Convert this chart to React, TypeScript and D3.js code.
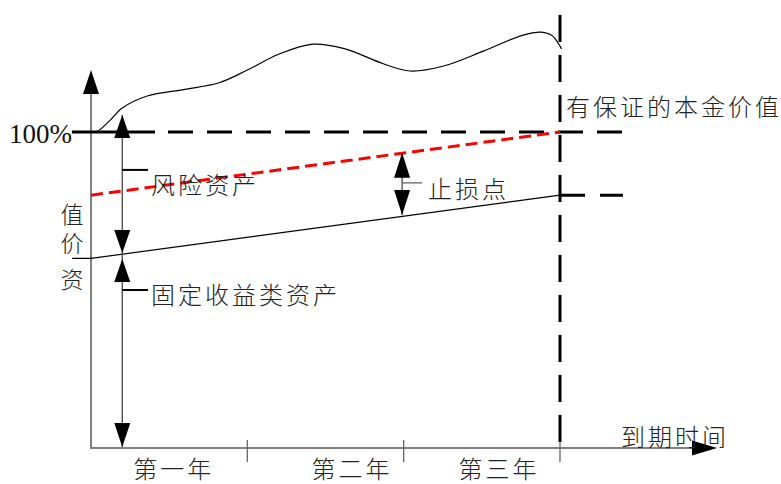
import React from "react";
import * as d3 from "d3";

// ---- data (years on x, value in % of principal on y) ----
const axisYears = [0, 1, 2, 3];
const tickYears = [1, 2, 3];
const tickLabels = ["第一年", "第二年", "第三年"];
const tickLabelYears = [0.52, 1.66, 2.6];

const portfolioYears = [-0.12, 0, 0.04, 0.12, 0.2, 0.36, 0.6, 0.82, 1.0, 1.2, 1.42, 1.62, 1.87, 2.04, 2.25, 2.51, 2.76, 2.88, 2.95, 2.99, 3.01];
const portfolioValues = [100, 100, 100.2, 103.6, 107.6, 111.4, 113.5, 115.6, 119.6, 124.6, 127.8, 126.4, 121.6, 119.3, 120.8, 125.6, 130.6, 131.6, 130.5, 128, 126.3];

const floorYears = [-0.12, 0, 3];
const floorValues = [60, 60, 80];

const redYears = [0, 3];
const redValues = [80, 100];

const guaranteedValue = 100;
const guaranteedLabel = "有保证的本金价值";
const stopLossLabel = "止损点";
const riskLabel = "风险资产";
const fixedLabel = "固定收益类资产";
const yAxisChars = ["值", "价", "资"];
const xAxisLabel = "到期时间";
const hundredLabel = "100%";

const W = 781;
const H = 484;

const x = d3.scaleLinear().domain([0, 3]).range([91, 560]);
const y = d3.scaleLinear().domain([0, 100]).range([448, 132]);

const cjk = '"Noto Sans CJK SC", "Noto Sans CJK JP", sans-serif';

function tri(tx: number, ty: number, dir: "up" | "down" | "right", len: number, hw: number) {
  if (dir === "up") return `M${tx},${ty}L${tx - hw},${ty + len}L${tx + hw},${ty + len}Z`;
  if (dir === "down") return `M${tx},${ty}L${tx - hw},${ty - len}L${tx + hw},${ty - len}Z`;
  return `M${tx},${ty}L${tx - len},${ty - hw}L${tx - len},${ty + hw}Z`;
}

export default function App() {
  const line = d3
    .line<[number, number]>()
    .x((d) => x(d[0]))
    .y((d) => y(d[1]));
  const curve = d3
    .line<[number, number]>()
    .x((d) => x(d[0]))
    .y((d) => y(d[1]))
    .curve(d3.curveCatmullRom.alpha(0.5));

  const portfolio = portfolioYears.map((t, i) => [t, portfolioValues[i]] as [number, number]);
  const floor = floorYears.map((t, i) => [t, floorValues[i]] as [number, number]);
  const red = redYears.map((t, i) => [t, redValues[i]] as [number, number]);

  const x0 = x(axisYears[0]);
  const x3 = x(axisYears[3]);
  const yBase = y(0);
  const yTop = y(guaranteedValue);
  const yFloorEnd = y(floorValues[2]);

  const leftArrowX = x(0.2);
  const stopX = x(1.99);

  const textStyle = { fontFamily: cjk, fontWeight: 300 as const, fill: "#222", letterSpacing: 3 };
  const vBaselines = [223, 252, 288];

  return (
    <svg width={W} height={H} style={{ position: "absolute", left: 0, top: 0, background: "#fff" }}>
      {/* axes */}
      <line x1={x0} y1={yBase} x2={x0} y2={90} stroke="#808080" strokeWidth={2} />
      <path d={tri(x0, 70, "up", 24, 8)} fill="#000" />
      <line x1={x0 - 1} y1={yBase} x2={695} y2={yBase} stroke="#808080" strokeWidth={2} />
      <path d={tri(717, yBase, "right", 25, 7.5)} fill="#000" />
      {tickYears.map((t) => (
        <line key={t} x1={x(t)} x2={x(t)} y1={440} y2={462} stroke="#666" strokeWidth={1.3} />
      ))}
      {tickLabels.map((s, i) => (
        <text key={s} x={x(tickLabelYears[i]) + 1.5} y={478} textAnchor="middle" fontSize={24} style={textStyle}>
          {s}
        </text>
      ))}
      <text x={621} y={446} fontSize={24} style={textStyle}>
        {xAxisLabel}
      </text>

      {/* 100% guaranteed line */}
      <line x1={72} y1={yTop} x2={155} y2={yTop} stroke="#000" strokeWidth={3} />
      <line x1={168} y1={yTop} x2={623} y2={yTop} stroke="#000" strokeWidth={3} strokeDasharray="25,14" />
      <text x={9} y={143} fontSize={27} fontFamily='"Liberation Serif", serif' fill="#111">
        {hundredLabel}
      </text>

      {/* maturity vertical dashed line */}
      <line x1={x3} y1={15} x2={x3} y2={442} stroke="#000" strokeWidth={3} strokeDasharray="27,13" />
      {/* floor end dashes */}
      <line x1={x3} y1={yFloorEnd} x2={623} y2={yFloorEnd} stroke="#000" strokeWidth={3} strokeDasharray="25,15" />

      {/* portfolio curve */}
      <path d={curve(portfolio) || ""} fill="none" stroke="#000" strokeWidth={1.2} />
      {/* floor line */}
      <path d={line(floor) || ""} fill="none" stroke="#000" strokeWidth={1.2} />
      {/* red line */}
      <path d={line(red) || ""} fill="none" stroke="#ff0000" strokeWidth={3} strokeDasharray="12,6" />

      {/* left double arrows */}
      <line x1={leftArrowX} x2={leftArrowX} y1={y(105.4)} y2={y(0.3)} stroke="#444" strokeWidth={1.3} />
      <path d={tri(leftArrowX, y(105.4), "up", 23, 8)} fill="#000" />
      <path d={tri(leftArrowX, y(61.7), "down", 23, 8)} fill="#000" />
      <path d={tri(leftArrowX, y(59.8), "up", 23, 8)} fill="#000" />
      <path d={tri(leftArrowX, y(0.3), "down", 24, 8)} fill="#000" />
      <line x1={leftArrowX} x2={148} y1={y(88)} y2={y(88)} stroke="#000" strokeWidth={2} />
      <line x1={leftArrowX} x2={148} y1={y(50)} y2={y(50)} stroke="#000" strokeWidth={2} />
      <text x={151} y={194} fontSize={24} style={textStyle}>
        {riskLabel}
      </text>
      <text x={151} y={304} fontSize={24} style={textStyle}>
        {fixedLabel}
      </text>

      {/* stop loss arrows */}
      <line x1={stopX} x2={stopX} y1={y(93.4)} y2={y(73.7)} stroke="#444" strokeWidth={1.3} />
      <path d={tri(stopX, y(93.4), "up", 25, 8)} fill="#000" />
      <path d={tri(stopX, y(73.7), "down", 25, 8)} fill="#000" />
      <line x1={stopX} x2={422} y1={y(83.9)} y2={y(83.9)} stroke="#666" strokeWidth={1.3} />
      <text x={428} y={198} fontSize={24} style={textStyle}>
        {stopLossLabel}
      </text>

      {/* guaranteed label */}
      <text x={566} y={116} fontSize={24} style={textStyle}>
        {guaranteedLabel}
      </text>

      {/* y axis label (vertical chars) */}
      <text textAnchor="middle" fontSize={23} style={{ ...textStyle, letterSpacing: 0 }}>
        {yAxisChars.map((c, i) => (
          <tspan key={c} x={72} y={vBaselines[i]}>
            {c}
          </tspan>
        ))}
      </text>
    </svg>
  );
}
